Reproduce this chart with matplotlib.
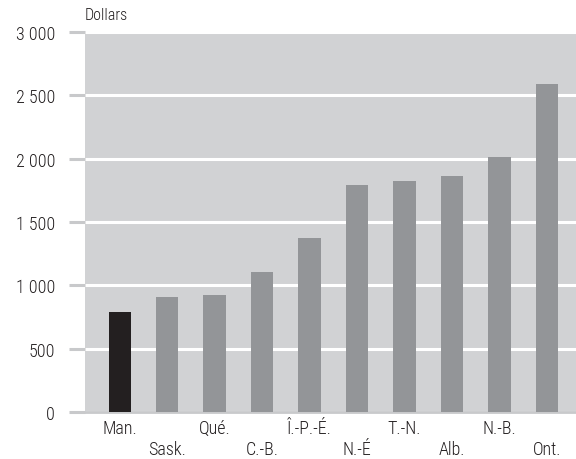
import matplotlib.pyplot as plt
from matplotlib.ticker import FuncFormatter

provinces = ["Man.", "Sask.", "Qué.", "C.-B.", "Î.-P.-É.", "N.-É", "T.-N.", "Alb.", "N.-B.", "Ont."]
values = [790, 905, 925, 1105, 1370, 1795, 1825, 1865, 2015, 2590]
yticks = [0, 500, 1000, 1500, 2000, 2500, 3000]

plt.rcParams['font.family'] = ['Roboto Condensed', 'DejaVu Sans']
plt.rcParams['font.stretch'] = 'condensed'
plt.rcParams['font.weight'] = 'light'

fig = plt.figure(figsize=(5.76, 4.6), dpi=100)
ax = fig.add_axes([85 / 576, 47 / 460, 1 - 85 / 576, 380 / 460])
ax.set_facecolor("#d1d2d4")

colors = ["#231f20"] + ["#939598"] * (len(values) - 1)
x = list(range(len(values)))
ax.bar(x, values, width=0.47, color=colors, zorder=3)

ax.set_xlim(-0.73, 9.61)
ax.set_ylim(0, 3000)
ax.set_yticks(yticks)
ax.yaxis.set_major_formatter(FuncFormatter(lambda v, p: f"{int(v):,}".replace(",", " ")))
ax.grid(axis="y", color="white", linewidth=2.2, zorder=1)

for s in ["top", "right", "left"]:
    ax.spines[s].set_visible(False)
ax.spines["bottom"].set_color("#c8c9cb")
ax.spines["bottom"].set_linewidth(2)

ax.tick_params(axis="y", length=11.5, width=2.2, color="#c8c9cb", pad=10,
               labelsize=13, labelcolor="#231f20")
ax.set_xticks(x)
ax.set_xticklabels(provinces, fontsize=13, color="#231f20")
ax.tick_params(axis="x", length=0)
for i, t in enumerate(ax.xaxis.get_major_ticks()):
    t.set_pad(5 if i % 2 == 0 else 20.5)

fig.text(85 / 576, 1 - 15 / 460, "Dollars", fontsize=11.5, color="#231f20",
         ha="left", va="center")

fig.savefig("out.png", dpi=100)
